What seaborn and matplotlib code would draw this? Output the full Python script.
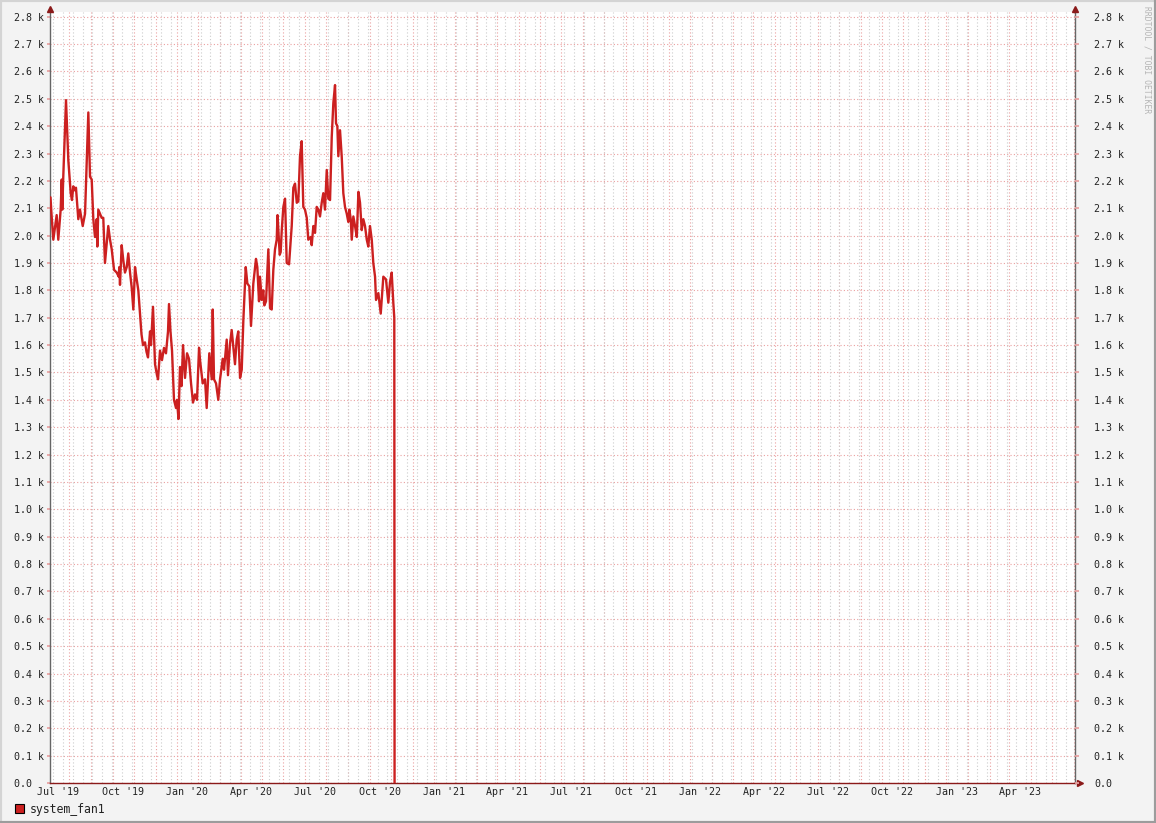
import numpy as np
import pandas as pd
import seaborn as sns
import matplotlib.pyplot as plt
import matplotlib.dates as mdates
from matplotlib.ticker import FuncFormatter, MultipleLocator
from matplotlib.lines import Line2D
from matplotlib.patches import Rectangle

# days since 2019-06-19 12:00 and the fan speed
day = [0.7, 2.1, 4.7, 9.5, 11.8, 15.2, 16.7, 17.5, 18.9, 22.8,
       26.1, 29.5, 31.3, 33.2, 35.6, 37.0, 40.3, 42.7, 46.6, 49.9,
       52.3, 54.6, 57.0, 59.4, 61.7, 64.1, 66.5, 67.4, 68.8, 71.2,
       73.6, 75.9, 78.3, 83.0, 85.5, 87.9, 91.2, 95.0, 97.9, 98.7,
       99.7, 102.1, 104.4, 106.8, 109.3, 111.5, 114.0, 116.4, 118.7, 121.1,
       123.5, 125.8, 128.2, 130.3, 132.5, 135.3, 137.5, 139.6, 142.5, 143.9,
       146.7, 149.6, 152.4, 153.9, 156.7, 159.5, 162.4, 165.2, 168.1, 169.5,
       171.6, 173.8, 176.6, 179.5, 180.9, 183.0, 185.2, 187.3, 189.5, 192.3,
       195.2, 198.0, 200.9, 203.7, 206.5, 209.4, 212.3, 213.7, 217.5, 220.8,
       223.2, 226.9, 230.4, 231.8, 233.6, 236.5, 239.7, 242.2, 246.0, 247.9,
       251.7, 253.5, 256.4, 258.8, 261.1, 263.5, 265.9, 268.2, 270.7, 273.1,
       275.4, 278.8, 281.1, 283.9, 286.3, 289.6, 293.4, 295.3, 297.7, 299.1,
       301.6, 303.8, 305.3, 307.7, 311.0, 313.4, 315.8, 318.1, 320.5, 322.9,
       324.1, 327.2, 328.6, 330.1, 332.4, 334.8, 337.2, 340.5, 344.3, 346.6,
       349.0, 351.5, 353.7, 356.1, 358.5, 360.8, 363.2, 365.7, 367.9, 371.4,
       372.8, 375.1, 377.5, 379.9, 382.2, 384.6, 387.0, 389.3, 391.7, 394.2,
       396.4, 398.9, 401.3, 403.6, 406.0, 407.4, 409.3, 410.7, 413.1, 415.5,
       417.8, 420.2, 422.7, 424.9, 426.4, 428.4, 429.8, 432.1, 434.5, 437.0,
       439.3, 441.6, 444.0, 446.3, 448.7, 451.2, 453.4, 455.8, 458.3, 460.5,
       463.0, 464.4, 467.7, 471.1, 474.8, 478.6, 481.9, 484.3, 486.7, 489.0,
       490.4, 490.8]
rpm = [2140, 2080, 1985, 2075, 1985, 2095, 2205, 2095, 2215, 2495,
       2275, 2155, 2130, 2180, 2165, 2175, 2060, 2095, 2035, 2080,
       2265, 2450, 2215, 2205, 2060, 1995, 2060, 1960, 2095, 2080,
       2065, 2065, 1900, 2035, 1985, 1950, 1875, 1865, 1850, 1885,
       1820, 1965, 1910, 1865, 1885, 1935, 1865, 1810, 1730, 1885,
       1840, 1800, 1715, 1640, 1600, 1610, 1575, 1555, 1650, 1600,
       1740, 1530, 1490, 1475, 1580, 1545, 1590, 1570, 1650, 1750,
       1650, 1580, 1400, 1370, 1400, 1330, 1520, 1450, 1600, 1480,
       1570, 1550, 1460, 1390, 1420, 1400, 1590, 1545, 1460, 1475,
       1370, 1570, 1475, 1730, 1475, 1460, 1400, 1475, 1550, 1510,
       1620, 1490, 1605, 1655, 1595, 1530, 1620, 1650, 1480, 1510,
       1690, 1885, 1825, 1815, 1670, 1825, 1915, 1885, 1760, 1850,
       1765, 1800, 1745, 1760, 1950, 1735, 1730, 1875, 1950, 1985,
       2075, 1930, 1940, 2020, 2105, 2135, 1900, 1895, 2035, 2175,
       2190, 2120, 2125, 2290, 2345, 2105, 2095, 2065, 1985, 1995,
       1965, 2035, 2010, 2105, 2095, 2070, 2120, 2155, 2095, 2240,
       2135, 2130, 2360, 2485, 2550, 2410, 2400, 2290, 2385, 2290,
       2155, 2105, 2080, 2050, 2095, 2060, 1985, 2070, 2035, 1995,
       2160, 2120, 2020, 2060, 2035, 1985, 1960, 2035, 1985, 1900,
       1850, 1765, 1790, 1715, 1850, 1840, 1755, 1830, 1865, 1755,
       1700, 0]
series_name = "system_fan1"
watermark = "RRDTOOL / TOBI OETIKER"

start = pd.Timestamp("2019-06-19 12:00")
end = start + pd.Timedelta(days=1460)
df = pd.DataFrame({"time": start + pd.to_timedelta(day, unit="D"), "rpm": rpm})

sns.set_theme(style="white")
plt.rcParams["font.family"] = ["DejaVu Sans Mono"]

line_color = "#cc2020"
arrow_color = "#8b1a1a"
W, H = 1156, 823

fig = plt.figure(figsize=(W / 100, H / 100), dpi=100, facecolor="#f3f3f3")
ax = fig.add_axes([50 / W, 40 / H, 1025 / W, 771 / H])
ax.set_facecolor("white")

sns.lineplot(data=df, x="time", y="rpm", ax=ax, color=line_color,
             linewidth=1.7, estimator=None, zorder=5)

ax.set_xlim(start, end)
ax.set_ylim(0, 2817)
ax.set_xlabel("")
ax.set_ylabel("")

# y axis: labels in k (zero keeps the blank unit, like rrdtool)
fmt_left = FuncFormatter(lambda v, p: "0.0  " if v == 0 else f"{v / 1000:.1f} k")
fmt_right = FuncFormatter(lambda v, p: "0.0" if v == 0 else f"{v / 1000:.1f} k")
ax.yaxis.set_major_locator(MultipleLocator(100))
ax.yaxis.set_major_formatter(fmt_left)
ax.tick_params(axis="y", length=2, color="#e8a0a0", pad=2.5, labelsize=7.2,
               labelcolor="#222222")

ax2 = ax.twinx()
ax2.set_ylim(ax.get_ylim())
ax2.yaxis.set_major_locator(MultipleLocator(100))
ax2.yaxis.set_major_formatter(fmt_right)
ax2.tick_params(axis="y", length=3, color="#e8a0a0", pad=11, labelsize=7.2,
                labelcolor="#222222")
for s in ax2.spines.values():
    s.set_visible(False)

# x axis: labels every quarter, red lines monthly, grey lines fortnightly
ax.xaxis.set_major_locator(mdates.MonthLocator(bymonth=(1, 4, 7, 10)))
ax.xaxis.set_major_formatter(mdates.DateFormatter("%b '%y"))
ax.xaxis.set_minor_locator(mdates.MonthLocator(bymonthday=17))
ax.tick_params(axis="x", which="major", length=0, pad=3, labelsize=7.2,
               labelcolor="#222222")
ax.tick_params(axis="x", which="minor", length=3, color="#e08080")

x0, x1 = mdates.date2num(start), mdates.date2num(end)
fortnight = mdates.WeekdayLocator(byweekday=mdates.MO, interval=2).tick_values(
    start.to_pydatetime(), end.to_pydatetime())
for xv in fortnight:
    if x0 < xv < x1:
        ax.axvline(xv, color="#cccccc", linestyle=(0, (1, 2)), linewidth=0.8, zorder=1)

ax.grid(False)
ax.grid(True, which="minor", axis="x", color="#eaa0a0", linestyle=(0, (1, 2)),
        linewidth=0.8, zorder=2)
ax.grid(True, which="major", axis="y", color="#eaa0a0", linestyle=(0, (1, 2)),
        linewidth=0.8, zorder=2)
ax.set_axisbelow(True)

# frame like rrdtool
ax.spines["top"].set_visible(False)
ax.spines["left"].set_color("#666666")
ax.spines["right"].set_color("#666666")
ax.spines["bottom"].set_color(arrow_color)
for s in ("left", "right", "bottom"):
    ax.spines[s].set_linewidth(1.0)

ax.plot([0], [1.004], marker="^", color=arrow_color, ms=4.5,
        transform=ax.transAxes, clip_on=False, zorder=6)
ax.plot([1], [1.004], marker="^", color=arrow_color, ms=4.5,
        transform=ax.transAxes, clip_on=False, zorder=6)
ax.plot([1.005], [0], marker=">", color=arrow_color, ms=4.5,
        transform=ax.transAxes, clip_on=False, zorder=6)

# legend
fig.patches.append(Rectangle((15 / W, (H - 813) / H), 9 / W, 9 / H,
                             transform=fig.transFigure, facecolor=line_color,
                             edgecolor="black", linewidth=0.8))
fig.text(30 / W, (H - 809) / H, series_name, va="center", ha="left",
         fontsize=8.3, color="#222222")

fig.text(1147 / W, (H - 60) / H, watermark, rotation=270, ha="center",
         va="center", fontsize=5.8, color="#b5b5b5")

# outer shading
fig.add_artist(Line2D([0, 1], [1, 1], transform=fig.transFigure, color="#d4d4d4", lw=3))
fig.add_artist(Line2D([0, 0], [0, 1], transform=fig.transFigure, color="#d4d4d4", lw=3))
fig.add_artist(Line2D([0, 1], [0, 0], transform=fig.transFigure, color="#9c9c9c", lw=3))
fig.add_artist(Line2D([1, 1], [0, 1], transform=fig.transFigure, color="#9c9c9c", lw=3))

fig.savefig("out.png", dpi=100, facecolor=fig.get_facecolor())
